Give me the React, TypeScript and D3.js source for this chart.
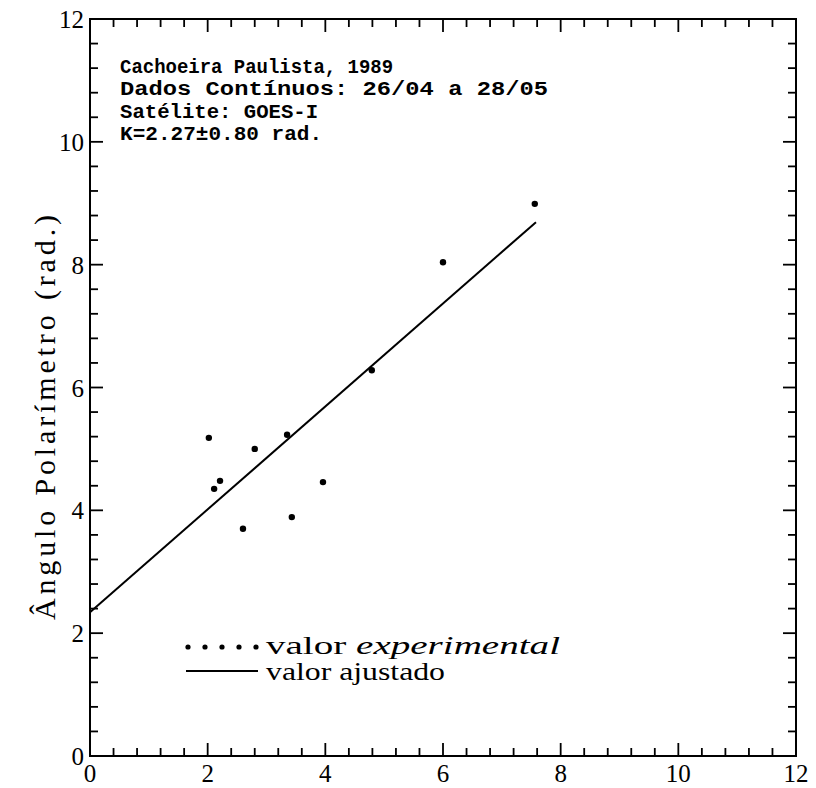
import React from "react";
import * as d3 from "d3";

const xValues = [2.02, 2.21, 2.11, 2.8, 3.35, 3.96, 3.43, 2.6, 4.79, 6.0, 7.56];
const yValues = [5.18, 4.48, 4.35, 5.0, 5.23, 4.46, 3.89, 3.7, 6.28, 8.04, 8.99];
const fitIntercept = 2.34;
const fitSlope = 0.838;
const fitXMax = 7.58;
const tickLabels = [0, 2, 4, 6, 8, 10, 12];
const infoLines = [
  "Cachoeira Paulista, 1989",
  "Dados Contínuos: 26/04 a 28/05",
  "Satélite: GOES-I",
  "K=2.27±0.80 rad.",
];
const infoWidths = [273, 428, 198, 202];
const yTitle = "Ângulo Polarímetro (rad.)";

export default function App() {
  const W = 816, H = 788;
  const x = d3.scaleLinear().domain([0, 12]).range([90, 796]);
  const y = d3.scaleLinear().domain([0, 12]).range([756, 19]);
  const minor = d3.range(0, 12.001, 0.4).map((v) => Math.round(v * 10) / 10);
  const isMajor = (v: number) => Math.abs(v / 2 - Math.round(v / 2)) < 1e-6;
  const line = d3.line<number>().x((d) => x(d)).y((d) => y(fitIntercept + fitSlope * d));
  const serif = "'Liberation Serif', 'DejaVu Serif', serif";
  const mono = "'Liberation Mono', 'DejaVu Sans Mono', monospace";
  return (
    <svg width={W} height={H} style={{ position: "absolute", left: 0, top: 0, background: "#fff" }}>
      <rect x={0} y={0} width={W} height={H} fill="#fff" />
      <rect x={x(0)} y={y(12)} width={x(12) - x(0)} height={y(0) - y(12)} fill="none" stroke="#000" strokeWidth={2} />
      {minor.map((v) => {
        const len = isMajor(v) ? 13 : 8;
        return (
          <g key={"t" + v} stroke="#000" strokeWidth={1.8}>
            <line x1={x(v)} x2={x(v)} y1={y(0)} y2={y(0) - len} />
            <line x1={x(v)} x2={x(v)} y1={y(12)} y2={y(12) + len} />
            <line y1={y(v)} y2={y(v)} x1={x(0)} x2={x(0) + len} />
            <line y1={y(v)} y2={y(v)} x1={x(12)} x2={x(12) - len} />
          </g>
        );
      })}
      {tickLabels.map((v) => (
        <text key={"xl" + v} x={x(v)} y={y(0) + 26} textAnchor="middle" fontFamily={serif} fontSize={25}>
          {v}
        </text>
      ))}
      {tickLabels.map((v) => (
        <text key={"yl" + v} x={x(0) - 6} y={y(v) + 9} textAnchor="end" fontFamily={serif} fontSize={25}>
          {v}
        </text>
      ))}
      <text
        transform={`translate(55, ${(215 + 620) / 2}) rotate(-90)`}
        textAnchor="middle"
        fontFamily={serif}
        fontSize={30}
        textLength={405}
        lengthAdjust="spacing"
      >
        {yTitle}
      </text>
      {infoLines.map((t, i) => (
        <text
          key={"info" + i}
          x={120}
          y={73 + i * 22.3}
          fontFamily={mono}
          fontSize={20}
          fontWeight="bold"
          textLength={infoWidths[i]}
          lengthAdjust="spacingAndGlyphs"
        >
          {t}
        </text>
      ))}
      <path d={line([0, fitXMax]) || ""} fill="none" stroke="#000" strokeWidth={2} />
      {xValues.map((v, i) => (
        <circle key={"p" + i} cx={x(v)} cy={y(yValues[i])} r={3.2} fill="#000" />
      ))}
      {d3.range(5).map((i) => (
        <circle key={"ld" + i} cx={188 + i * 17} cy={647} r={2.6} fill="#000" />
      ))}
      <text x={266} y={654} fontFamily={serif} fontSize={25} textLength={294} lengthAdjust="spacingAndGlyphs">
        valor <tspan fontStyle="italic">experimental</tspan>
      </text>
      <line x1={186} x2={258} y1={671} y2={671} stroke="#000" strokeWidth={2} />
      <text x={266} y={680} fontFamily={serif} fontSize={25} textLength={179} lengthAdjust="spacingAndGlyphs">
        valor ajustado
      </text>
    </svg>
  );
}
